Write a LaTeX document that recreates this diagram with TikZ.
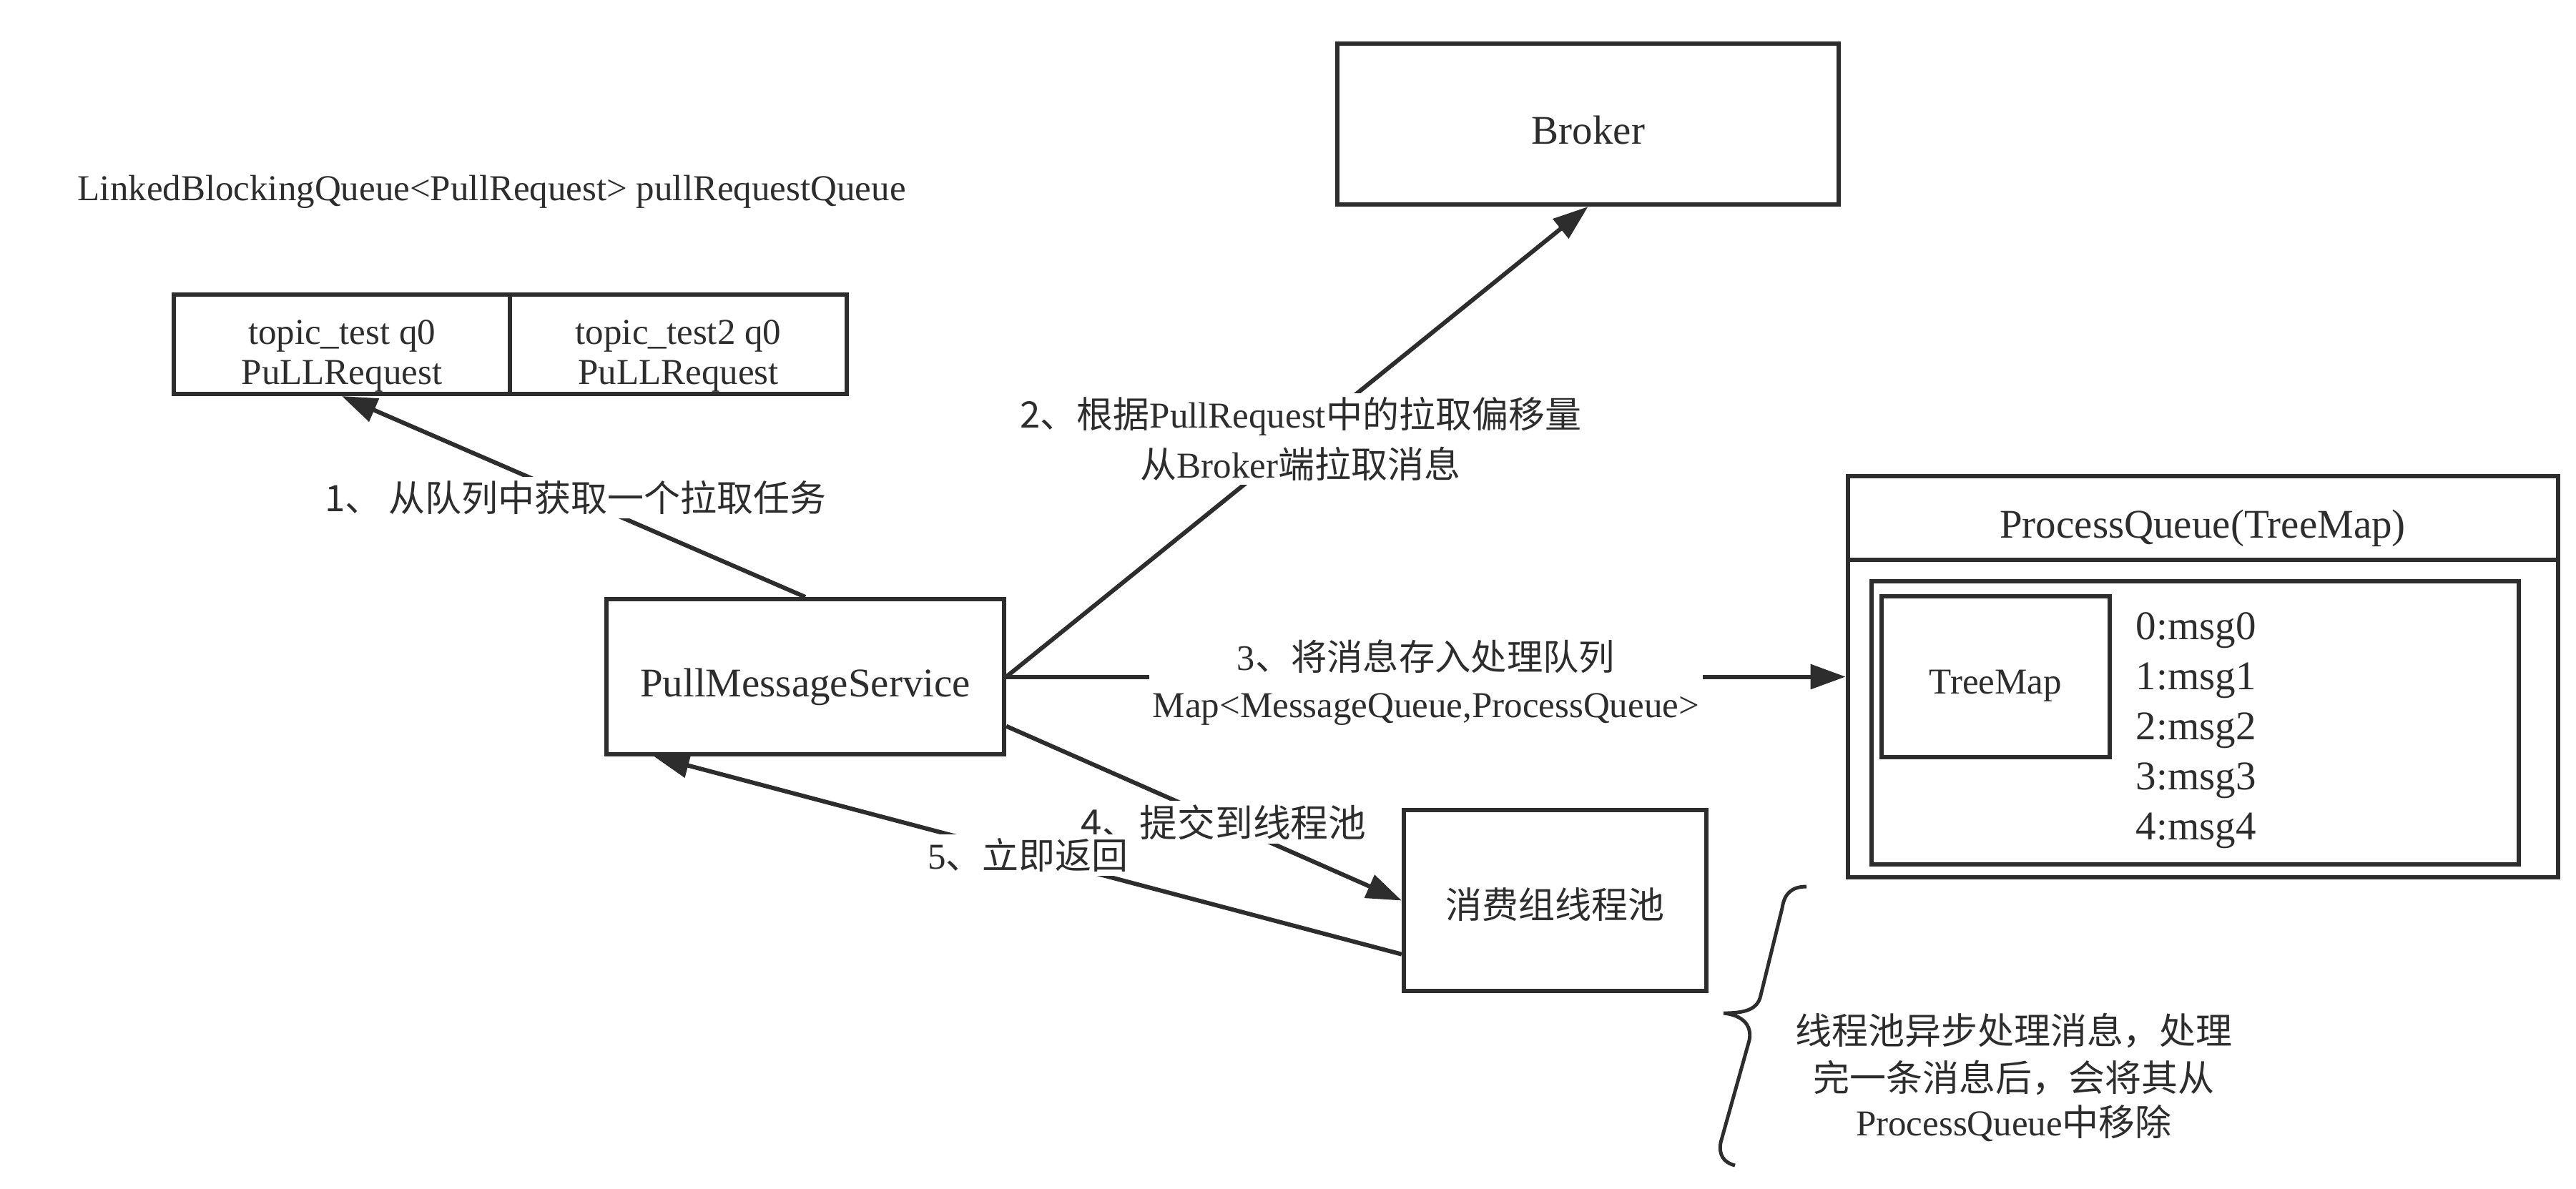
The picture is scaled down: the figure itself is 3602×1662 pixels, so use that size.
\documentclass[tikz,border=0pt]{standalone}
\usepackage{fontspec}
\setmainfont{Liberation Serif}
\newfontfamily\cjk{Noto Sans CJK SC}
\usetikzlibrary{arrows.meta,calc}
\definecolor{ink}{RGB}{45,45,45}
\definecolor{txt}{RGB}{45,45,45}
\newcommand\szS{\fontsize{14.5pt}{18pt}\selectfont}
\newcommand\szM{\fontsize{14.3pt}{18.2pt}\selectfont}
\newcommand\szL{\fontsize{16.2pt}{20pt}\selectfont}
\begin{document}
\begin{tikzpicture}[x=0.01cm,y=-0.01cm,
  box/.style={draw=ink, line width=1.7pt, fill=white, inner sep=0pt},
  plain/.style={text=txt, inner sep=0pt},
  lbl/.style={fill=white, text=txt, inner sep=1.5pt, align=center},
  conn/.style={draw=ink, line width=1.7pt, -{Triangle[length=14pt,width=9.7pt]}}]
\useasboundingbox[fill=white] (0,0) rectangle (3602,1662);

% queue
\node[plain, anchor=base west, font=\szS] (lbq) at (108,280) {LinkedBlockingQueue<PullRequest> pullRequestQueue};
\node[box, minimum width=4.70cm, minimum height=1.39cm] (q1) at (478,481.5) {};
\node[box, minimum width=4.71cm, minimum height=1.39cm] (q2) at (948.5,481.5) {};
\node[plain, anchor=base, font=\szS] (q1a) at (478,481) {topic\_test q0};
\node[plain, anchor=base, font=\szS] (q1b) at (478,537) {PuLLRequest};
\node[plain, anchor=base, font=\szS] (q2a) at (948.5,481) {topic\_test2 q0};
\node[plain, anchor=base, font=\szS] (q2b) at (948.5,537) {PuLLRequest};

% broker
\node[box, minimum width=7.01cm, minimum height=2.25cm] (broker) at (2220.5,173.5) {};
\node[plain, anchor=base, font=\szL] (brokert) at (2221,201) {Broker};

% pull message service
\node[box, minimum width=5.56cm, minimum height=2.17cm] (pms) at (1126,946.5) {};
\node[plain, anchor=base, font=\szL] (pmst) at (1126,974) {PullMessageService};

% thread pool
\node[box, minimum width=4.23cm, minimum height=2.53cm] (tp) at (2174.5,1259.5) {};
\node[plain, anchor=base, font=\szS\cjk] (tpt) at (2174,1284) {消费组线程池};

% process queue
\node[box, minimum width=9.93cm, minimum height=5.61cm] (pq) at (3080.5,946.5) {};
\draw[ink, line width=1.7pt] ($(pq.north west)+(0,120)$) -- ($(pq.north east)+(0,120)$);
\node[plain, anchor=base, font=\szL] (pqt) at (3080,752) {ProcessQueue(TreeMap)};
\node[box, minimum width=9.05cm, minimum height=3.96cm] (pqin) at (3069.5,1011) {};
\node[box, minimum width=3.19cm, minimum height=2.25cm] (tm) at (2790.5,946.5) {};
\node[plain, anchor=base, font=\szS] (tmt) at (2790.5,970) {TreeMap};
\foreach \i in {0,...,4} {
  \node[plain, anchor=base west, font=\szL] (m\i) at (2986,894+70*\i) {\i:msg\i};
}

% connectors
\draw[conn] (pms.north) -- node[lbl, pos=0.495, font=\szS\cjk] (l1) {1、\kern0.2em 从队列中获取一个拉取任务} (q1.south);
\draw[conn] (pms.east) -- node[lbl, pos=0.506, font=\szS] (l2)
  {{\cjk 2、根据}PullRequest{\cjk 中的拉取偏移量}\\[2pt]{\cjk 从}Broker{\cjk 端拉取消息}} (broker.south);
\draw[conn] (pms.east) -- node[lbl, pos=0.5, yshift=-2.3pt, font=\szS] (l3)
  {{\szM 3\cjk 、将消息存入处理队列}\\[1pt]Map<MessageQueue,ProcessQueue>} (pq.west);
\draw[conn] ($(pms.north east)!0.81!(pms.south east)$) -- node[lbl, pos=0.55, font=\fontsize{15pt}{18pt}\selectfont\cjk] (l4) {4、提交到线程池} (tp.west);
\draw[conn] ($(tp.north west)!0.79!(tp.south west)$) -- node[lbl, pos=0.5, font=\szS] (l5) {5{\cjk 、立即返回}} ($(pms.south west)!0.124!(pms.south east)$);

% brace and note
\draw[ink, line width=1.4pt] (2526,1240) .. controls (2505,1240) and (2495,1250) .. (2492,1270)
  -- (2462,1392) .. controls (2458,1412) and (2440,1417) .. (2410,1417)
  .. controls (2438,1420) and (2450,1435) .. (2446,1455)
  -- (2406,1598) .. controls (2403,1615) and (2410,1626) .. (2426,1630);
\node[plain, anchor=base, font=\szS\cjk] (n1) at (2816,1460) {线程池异步处理消息，处理};
\node[plain, anchor=base, font=\szS\cjk] (n2) at (2816,1526) {完一条消息后，会将其从};
\node[plain, anchor=base, font=\szS] (n3) at (2816,1588) {ProcessQueue{\cjk 中移除}};
\end{tikzpicture}
\end{document}
